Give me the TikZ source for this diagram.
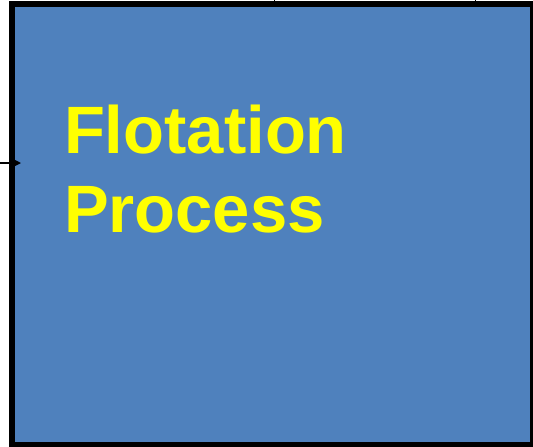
\documentclass[tikz,border=0pt]{standalone}
\usepackage{fontspec}
\setmainfont{Liberation Sans}
\usetikzlibrary{arrows.meta}
\definecolor{boxblue}{RGB}{79,129,189}
\definecolor{txtyellow}{RGB}{255,255,0}
\tikzset{
  procbox/.style={draw=black, line width=6pt, fill=boxblue, inner sep=0pt, outer sep=0pt},
  proctext/.style={text=txtyellow, font=\bfseries\fontsize{67}{79}\selectfont, align=left, inner sep=0pt, outer sep=0pt},
  conn/.style={draw=black, line width=1.5pt},
}
\begin{document}
\begin{tikzpicture}[x=1pt,y=-1pt]
\useasboundingbox (0,0) rectangle (533,447);
\node[procbox, minimum width=521pt, minimum height=441pt] (b) at (272.5,224.5) {};
\node[proctext, anchor=base west] (t) at (64,232) {Flotation\\Process};
\coordinate (in) at (-10,163);
\coordinate (top1) at (274,-10);
\coordinate (top2) at (475,-10);
\draw[conn, -{Stealth[length=10pt,width=10pt]}, shorten >=-9pt] (in) -- (b.west |- in);
\draw[conn, line width=1pt] (top1) -- (b.north -| top1);
\draw[conn, line width=1pt] (top2) -- (b.north -| top2);
\end{tikzpicture}
\end{document}
